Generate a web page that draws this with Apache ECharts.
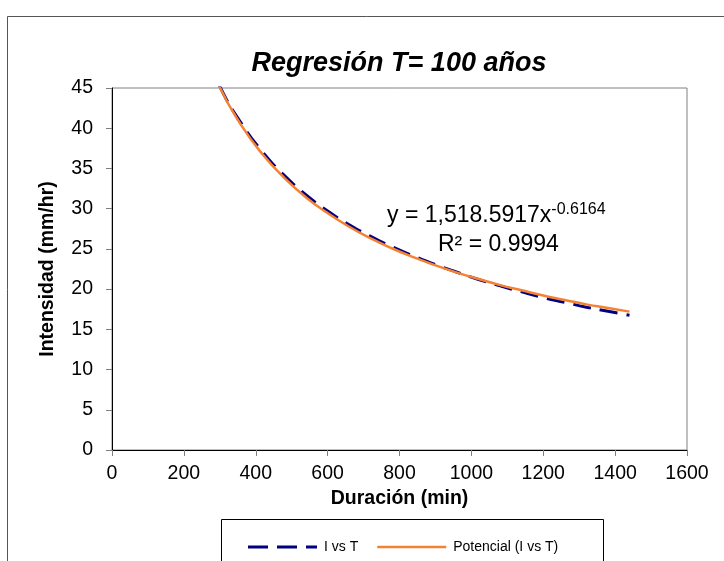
<!DOCTYPE html>
<html>
<head>
<meta charset="utf-8">
<script src="https://cdn.jsdelivr.net/npm/echarts@6/dist/echarts.min.js"></script>
<style>html,body{margin:0;padding:0;background:#fff}#c{width:724px;height:561px}</style>
</head>
<body>
<div id="c"></div>
<script>
// Durations (min)
const durations = [240, 300, 360, 420, 480, 540, 600, 660, 720, 780, 840, 900, 960, 1020, 1080, 1140, 1200, 1260, 1320, 1380, 1440];
// Observed intensity (mm/hr) - "I vs T"
const intensityObs = [51.5, 45.2, 40.6, 37.0, 34.1, 31.7, 29.7, 28.0, 26.55, 25.25, 24.1, 23.05, 22.1, 21.2, 20.4, 19.65, 18.95, 18.35, 17.75, 17.25, 16.75];
// Power trend line values - "Potencial (I vs T)"
const intensityFit = [51.8, 45.1, 40.35, 36.7, 33.8, 31.4, 29.45, 27.75, 26.3, 25.05, 23.95, 22.95, 22.05, 21.25, 20.5, 19.85, 19.2, 18.65, 18.1, 17.65, 17.2];
const xTicks = [0, 200, 400, 600, 800, 1000, 1200, 1400, 1600];
const yTicks = [0, 5, 10, 15, 20, 25, 30, 35, 40, 45];

const chart = echarts.init(document.getElementById('c'), null, {renderer: 'canvas'});
const font = 'Liberation Sans, Arial, sans-serif';
chart.setOption({
  animation: false,
  backgroundColor: '#fff',
  title: {
    text: 'Regresión T= 100 años',
    left: 394, top: 45, textAlign: 'center',
    textStyle: {fontFamily: font, fontSize: 27, fontWeight: 'bold', fontStyle: 'italic', color: '#000'}
  },
  grid: {left: 112, top: 88, right: 37, bottom: 111, show: true, borderColor: '#808080', borderWidth: 1},
  xAxis: {
    type: 'value', min: xTicks[0], max: xTicks[xTicks.length - 1], interval: xTicks[1] - xTicks[0],
    name: 'Duración (min)', nameLocation: 'middle', nameGap: 29,
    nameTextStyle: {fontFamily: font, fontSize: 19.5, fontWeight: 'bold', color: '#000'},
    axisLine: {lineStyle: {color: '#000', width: 1}},
    axisTick: {show: true, inside: false, length: 6, lineStyle: {color: '#808080'}},
    axisLabel: {fontFamily: font, fontSize: 19.5, color: '#000', margin: 14, formatter: v => String(v)},
    splitLine: {show: false}
  },
  yAxis: {
    type: 'value', min: yTicks[0], max: yTicks[yTicks.length - 1], interval: yTicks[1] - yTicks[0],
    name: 'Intensidad (mm/hr)', nameLocation: 'middle', nameGap: 54,
    nameTextStyle: {fontFamily: font, fontSize: 19.5, fontWeight: 'bold', color: '#000'},
    axisLine: {show: true, lineStyle: {color: '#000', width: 1}},
    axisTick: {show: true, inside: false, length: 6, lineStyle: {color: '#808080'}},
    axisLabel: {fontFamily: font, fontSize: 19.5, color: '#000', margin: 19, formatter: v => String(v)},
    splitLine: {show: false}
  },
  legend: {
    show: true,
    left: 243, top: 535,
    itemWidth: 69, itemHeight: 10, itemGap: 19,
    textStyle: {fontFamily: font, fontSize: 14, color: '#000', padding: [0, 0, 0, 2]},
    data: [
      {name: 'I vs T', icon: 'path://M0,4 L20,4 L20,7 L0,7 Z M29,4 L49,4 L49,7 L29,7 Z M58,4 L69,4 L69,7 L58,7 Z'},
      {name: 'Potencial (I vs T)', icon: 'path://M0,4 L69,4 L69,6.5 L0,6.5 Z'}
    ]
  },
  series: [
    {
      name: 'I vs T', type: 'line', smooth: true, symbol: 'none', clip: true,
      data: durations.map((d, i) => [d, intensityObs[i]]),
      lineStyle: {color: '#000080', width: 3, type: [18, 9]},
      itemStyle: {color: '#000080'}, z: 3
    },
    {
      name: 'Potencial (I vs T)', type: 'line', smooth: true, symbol: 'none', clip: true,
      data: durations.map((d, i) => [d, intensityFit[i]]),
      lineStyle: {color: '#F58232', width: 2.5},
      itemStyle: {color: '#F58232'}, z: 4
    }
  ],
  graphic: [
    {type: 'rect', shape: {x: 7.5, y: 16.5, width: 800, height: 600}, style: {fill: null, stroke: '#555', lineWidth: 1}, silent: true, z: -1},
    {type: 'rect', shape: {x: 221.5, y: 519.5, width: 382, height: 60}, style: {fill: '#fff', stroke: '#000', lineWidth: 1}, silent: true, z: -1},
    {type: 'text', left: 387, top: 202, style: {
      text: '{a|y = 1,518.5917x}{b|-0.6164}', font: '23px ' + font,
      rich: {a: {fontSize: 23, fontFamily: font, fill: '#000'}, b: {fontSize: 16, fontFamily: font, fill: '#000', verticalAlign: 'top', padding: [0, 0, 12, 0]}}
    }},
    {type: 'text', left: 438, top: 233, style: {text: 'R² = 0.9994', font: '23px ' + font, fill: '#000'}}
  ]
});
</script>
</body>
</html>
